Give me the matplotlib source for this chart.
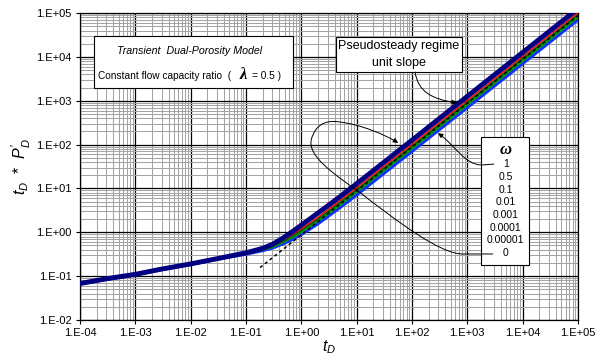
import numpy as np
import matplotlib
matplotlib.use("Agg")
import matplotlib.pyplot as plt
from matplotlib.ticker import LogLocator, FuncFormatter, NullFormatter
from matplotlib.patches import Rectangle, FancyArrowPatch
from matplotlib.path import Path

plt.rcParams['font.family'] = ['Liberation Sans', 'DejaVu Sans']
plt.rcParams['mathtext.fontset'] = 'custom'
plt.rcParams['mathtext.rm'] = 'Liberation Sans'
plt.rcParams['mathtext.it'] = 'Liberation Sans:italic'

# dimensionless time
t_D = [1e-4, 3e-4, 1e-3, 3e-3, 1e-2, 3e-2, 0.1, 0.2, 0.3, 0.5, 0.7, 1, 2, 3, 5, 10,
       100, 1e3, 1e4, 1e5]

# t_D * P_D' curves, top to bottom
navy_y = [0.068, 0.087, 0.11, 0.145, 0.19, 0.25, 0.34, 0.43, 0.53, 0.78, 1.05, 1.45,
          2.75, 4.0, 6.5, 12.8, 126, 1260, 12600, 126000]
red_y = [0.068, 0.087, 0.11, 0.145, 0.19, 0.25, 0.335, 0.415, 0.50, 0.69, 0.90, 1.2,
         2.2, 3.25, 5.3, 10.4, 102, 1020, 10200, 102000]
dkgreen_y = [0.068, 0.087, 0.11, 0.145, 0.19, 0.25, 0.33, 0.405, 0.48, 0.65, 0.83, 1.1,
             2.0, 2.9, 4.75, 9.3, 91, 910, 9100, 91000]
green_y = [0.067, 0.086, 0.109, 0.144, 0.189, 0.248, 0.325, 0.395, 0.46, 0.61, 0.77, 1.0,
           1.8, 2.6, 4.2, 8.3, 81, 810, 8100, 81000]
blue_y = [0.066, 0.085, 0.107, 0.142, 0.186, 0.245, 0.32, 0.385, 0.44, 0.57, 0.70, 0.9,
          1.58, 2.3, 3.7, 7.2, 71, 710, 7100, 71000]

# unit slope line (pseudosteady)
slope_x = [0.18, 1e5]
slope_y = [0.157, 87000]

omega_labels = ['1', '0.5', '0.1', '0.01', '0.001', '0.0001', '0.00001', '0']

fig = plt.figure(figsize=(5.97, 3.64), dpi=100)
ax = fig.add_axes([0.134, 0.121, 0.834, 0.843])
ax.set_xscale('log')
ax.set_yscale('log')
ax.set_xlim(1e-4, 1e5)
ax.set_ylim(1e-2, 1e5)

ax.xaxis.set_major_locator(LogLocator(base=10, numticks=20))
ax.yaxis.set_major_locator(LogLocator(base=10, numticks=20))
ax.xaxis.set_minor_locator(LogLocator(base=10, subs=np.arange(2, 10), numticks=20))
ax.yaxis.set_minor_locator(LogLocator(base=10, subs=np.arange(2, 10), numticks=20))
fmt = FuncFormatter(lambda v, p: "1.E%+03d" % int(round(np.log10(v))))
ax.xaxis.set_major_formatter(fmt)
ax.yaxis.set_major_formatter(fmt)
ax.xaxis.set_minor_formatter(NullFormatter())
ax.yaxis.set_minor_formatter(NullFormatter())
ax.tick_params(which='major', direction='out', length=3, width=0.8, labelsize=8, pad=3)
ax.tick_params(which='minor', length=0)

ax.grid(which='minor', color='#a4a4a4', lw=0.75)
ax.grid(which='major', color='black', lw=0.9)
ax.set_axisbelow(True)
for s in ax.spines.values():
    s.set_linewidth(0.9)

ax.plot(t_D, blue_y, color='#1030ff', lw=2.5, zorder=3)
ax.plot(t_D, green_y, color='#00a000', lw=1.5, zorder=3)
ax.plot(t_D, dkgreen_y, color='#006000', lw=1.5, zorder=3)
ax.plot(slope_x, slope_y, color='black', lw=1.1, ls=(0, (2, 2)), zorder=3)
ax.plot(t_D, red_y, color='#ff0000', lw=1.0, zorder=3)
ax.plot(t_D, navy_y, color='#000080', lw=3.5, zorder=3)

ax.set_xlabel(r"$t_D$", fontsize=11.5, labelpad=0)
ax.set_ylabel(r"$t_D$  *  $P_D'$", fontsize=11.5, labelpad=2)

T = ax.transAxes

# model box
ax.add_patch(Rectangle((0.028, 0.756), 0.400, 0.169, transform=T, fc='white',
                       ec='black', lw=0.8, zorder=5))
ax.text(0.221, 0.876, "Transient  Dual-Porosity Model", transform=T, fontsize=7.7,
        style='italic', ha='center', va='center', zorder=6)
ax.text(0.036, 0.795, "Constant flow capacity ratio  (", transform=T, fontsize=7.3,
        ha='left', va='center', zorder=6)
ax.text(0.327, 0.797, "λ", transform=T, fontsize=12, family='Liberation Serif',
        weight='bold', style='italic', ha='center', va='center', zorder=6)
ax.text(0.345, 0.795, "= 0.5 )", transform=T, fontsize=7.3, ha='left', va='center',
        zorder=6)

# pseudosteady box
ax.add_patch(Rectangle((0.514, 0.808), 0.253, 0.114, transform=T, fc='white',
                       ec='black', lw=0.8, zorder=5))
ax.text(0.640, 0.865, "Pseudosteady regime\nunit slope", transform=T, fontsize=9,
        ha='center', va='center', linespacing=1.55, zorder=6)

# omega box
ax.add_patch(Rectangle((0.805, 0.179), 0.096, 0.417, transform=T, fc='white',
                       ec='black', lw=0.8, zorder=5))
ax.text(0.855, 0.554, "ω", transform=T, fontsize=12, family='Liberation Serif',
        weight='bold', style='italic', ha='center', va='center', zorder=6)
for i, lab in enumerate(omega_labels):
    ax.text(0.855, 0.508 - i * 0.0415, lab, transform=T, fontsize=7.5,
            ha='center', va='center', zorder=6)

# arrows
def arrow(verts, codes):
    p = FancyArrowPatch(path=Path(verts, codes), transform=T, arrowstyle='-|>',
                        mutation_scale=7, lw=0.7, color='black', zorder=6)
    ax.add_patch(p)

M, C, L = Path.MOVETO, Path.CURVE4, Path.LINETO
arrow([(0.673, 0.808), (0.679, 0.743), (0.707, 0.720), (0.757, 0.707)],
      [M, C, C, C])
arrow([(0.831, 0.508), (0.807, 0.505), (0.773, 0.505), (0.753, 0.570), (0.719, 0.609)],
      [M, L, C, C, C])
arrow([(0.829, 0.215), (0.769, 0.215),
       (0.723, 0.215), (0.639, 0.319), (0.556, 0.423),
       (0.482, 0.505), (0.452, 0.554), (0.468, 0.603),
       (0.478, 0.645), (0.502, 0.651), (0.522, 0.645),
       (0.562, 0.638), (0.614, 0.603), (0.639, 0.577)],
      [M, L, C, C, C, C, C, C, C, C, C, C, C, C])

fig.savefig("out.png", dpi=100)
